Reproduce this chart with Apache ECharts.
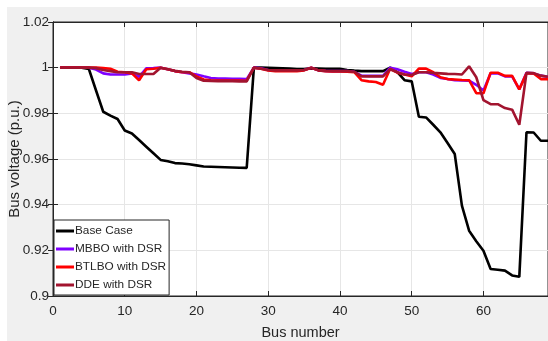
<!DOCTYPE html>
<html>
<head>
<meta charset="utf-8">
<script src="https://cdn.jsdelivr.net/npm/echarts@6/dist/echarts.min.js"></script>
<style>
html,body{margin:0;padding:0;background:#fff;}
#bg{position:absolute;left:7px;top:7px;width:541px;height:334px;background:#f0f0f0;}
#chart{position:absolute;left:0;top:0;width:548px;height:341px;}
</style>
</head>
<body>
<div id="bg"></div>
<div id="chart"></div>
<script>
const buses = Array.from({length: 69}, (_, i) => i + 1);

const baseCase = [1.0,1.0,1.0,1.0,0.9994,0.990,0.9807,0.979,0.9775,0.9725,
0.9712,0.9683,0.9654,0.9625,0.9596,0.959,0.9582,0.958,0.9577,0.9572,
0.9567,0.9566,0.9565,0.9564,0.9563,0.9562,0.9561,1.0,1.0,0.9999,
0.9998,0.9997,0.9996,0.9994,0.9994,0.9997,0.9996,0.9995,0.9995,0.9995,
0.999,0.9987,0.9985,0.9985,0.9985,0.9985,1.0,0.998,0.9945,0.994,
0.9785,0.9782,0.975,0.9717,0.967,0.9622,0.9396,0.9286,0.924,0.9198,
0.9118,0.9115,0.9111,0.909,0.9084,0.9717,0.9716,0.968,0.968];

const mbbo = [1.0,1.0,1.0,1.0,1.0,0.9992,0.9975,0.997,0.997,0.997,
0.9975,0.996,0.9997,0.9998,1.0,0.9993,0.9985,0.998,0.9975,0.997,
0.9962,0.9955,0.9952,0.9952,0.9951,0.9951,0.995,1.0,0.9997,0.999,
0.9988,0.9988,0.9988,0.9988,0.999,1.0,0.9988,0.9986,0.9985,0.9985,
0.9985,0.9982,0.9965,0.9964,0.9964,0.9964,1.0,0.9993,0.9982,0.9972,
0.998,0.998,0.997,0.9955,0.995,0.9945,0.9944,0.9943,0.9925,0.990,
0.9975,0.9975,0.9962,0.9962,0.9905,0.9978,0.9975,0.9965,0.996];

const btlbo = [1.0,1.0,1.0,1.0,1.0,1.0,0.9998,0.9995,0.9982,0.998,
0.9975,0.9945,0.9993,0.9995,1.0,0.9993,0.9985,0.998,0.998,0.9962,
0.9948,0.9945,0.9944,0.9944,0.9944,0.9944,0.9943,1.0,0.9995,0.9988,
0.9985,0.9985,0.9985,0.9985,0.9988,1.0,0.9988,0.9985,0.9983,0.9983,
0.9982,0.998,0.9945,0.994,0.9937,0.9925,0.9995,0.9978,0.997,0.9962,
0.9996,0.9996,0.998,0.9958,0.995,0.9948,0.9946,0.9945,0.9888,0.9888,
0.9978,0.9978,0.9964,0.9964,0.9905,0.9975,0.9975,0.995,0.995];

const dde = [1.0,1.0,1.0,1.0,1.0,0.9998,0.999,0.9985,0.998,0.998,
0.998,0.9972,0.9972,0.9972,1.0,0.9993,0.9986,0.9982,0.998,0.9955,
0.9943,0.9942,0.9941,0.9941,0.9941,0.994,0.994,1.0,0.9995,0.999,
0.9988,0.9988,0.9988,0.9988,0.999,1.0,0.9988,0.9986,0.9985,0.9985,
0.9985,0.9982,0.9962,0.9962,0.9962,0.9962,0.9993,0.998,0.997,0.9968,
0.998,0.998,0.9977,0.9975,0.9973,0.9972,0.997,1.0006,0.9958,0.9858,
0.984,0.984,0.9823,0.9816,0.975,0.9977,0.9976,0.9965,0.996];

const seriesNames = ['Base Case','MBBO with DSR','BTLBO with DSR','DDE with DSR'];
const seriesColors = ['#000000','#7f00ff','#ff0000','#a2142f'];
const seriesData = [baseCase, mbbo, btlbo, dde];

const chart = echarts.init(document.getElementById('chart'));
const txt = '#262626';
const font = 'Liberation Sans, Arial, sans-serif';
const axisCommon = {
  axisLine: {show: true, lineStyle: {color: txt, width: 1}},
  axisTick: {show: true, inside: true, length: 5, lineStyle: {color: txt}},
};
chart.setOption({
  animation: false,
  backgroundColor: 'transparent',
  textStyle: {fontFamily: font},
  grid: {left: 53, right: 0, top: 22, bottom: 45, containLabel: false, outerBoundsMode: 'none',
    show: true, backgroundColor: '#ffffff', borderColor: txt, borderWidth: 1},
  legend: {
    orient: 'vertical', left: 54, top: 220,
    data: seriesNames,
    icon: 'rect', itemWidth: 18, itemHeight: 3, itemGap: 4, itemStyle: {borderWidth: 0},
    textStyle: {fontSize: 11.8, color: txt, fontFamily: font, padding: [0,0,0,-4], lineHeight: 14},
    backgroundColor: '#ffffff', borderColor: '#262626', borderWidth: 1, borderRadius: 0,
    padding: [4, 3, 3, 2]
  },
  xAxis: [{
    type: 'value', min: 0, max: 69, interval: 10,
    name: 'Bus number', nameLocation: 'middle', nameGap: 29, nameMoveOverlap: false,
    nameTextStyle: {fontSize: 14.5, color: txt, fontFamily: font},
    ...axisCommon,
    axisLabel: {fontSize: 13.5, color: txt, margin: 8, showMaxLabel: false, fontFamily: font},
    splitLine: {show: true, lineStyle: {color: '#e6e6e6', width: 1}}
  }, {
    type: 'value', min: 0, max: 69, interval: 10, position: 'top',
    ...axisCommon, axisLabel: {show: false}, splitLine: {show: false}
  }],
  yAxis: [{
    type: 'value', min: 0.9, max: 1.02, interval: 0.02,
    name: 'Bus voltage (p.u.)', nameLocation: 'middle', nameGap: 38, nameMoveOverlap: false,
    nameTextStyle: {fontSize: 15, color: txt, fontFamily: font, verticalAlign: 'middle'},
    ...axisCommon,
    axisLabel: {fontSize: 13.5, color: txt, margin: 4, fontFamily: font,
      formatter: v => String(parseFloat(v.toFixed(2)))},
    splitLine: {show: true, lineStyle: {color: '#e6e6e6', width: 1}}
  }, {
    type: 'value', min: 0.9, max: 1.02, interval: 0.02, position: 'right',
    ...axisCommon, axisLabel: {show: false}, splitLine: {show: false}
  }],
  series: seriesNames.map((n, i) => ({
    name: n, type: 'line', showSymbol: false, symbol: 'none',
    data: buses.map((b, j) => [b, seriesData[i][j]]),
    lineStyle: {color: seriesColors[i], width: 2.6},
    itemStyle: {color: seriesColors[i]},
    z: 2 + i
  }))
});
</script>
</body>
</html>
